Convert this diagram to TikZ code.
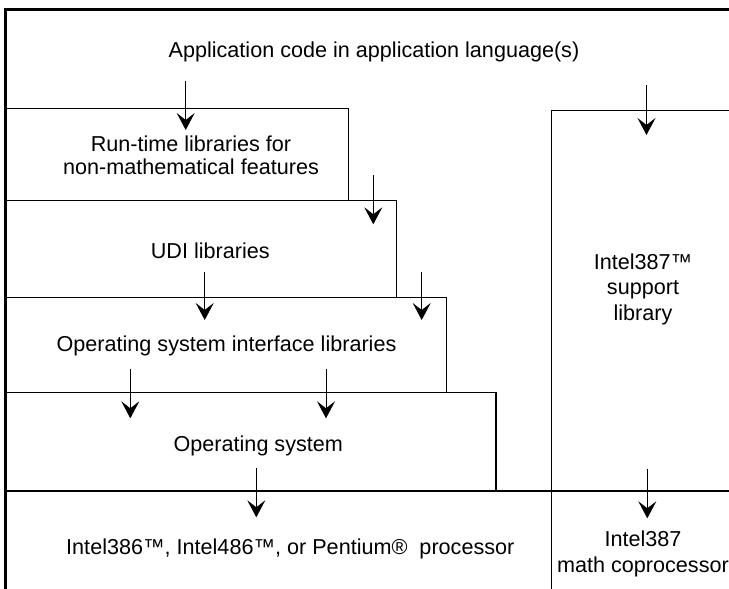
\documentclass[tikz,border=0pt]{standalone}
\usepackage{fontspec}
\setmainfont{Liberation Sans}
\usetikzlibrary{arrows.meta,positioning}
\tikzset{
    layer/.style={
        rectangle,
        draw,
        line width=1.2pt,
        anchor=north west,
        inner sep=0pt
    },
    layerText/.style={
        font=\fontsize{21.6}{25}\selectfont,
        align=center,
        anchor=base,
        inner sep=0pt
    },
    callArrow/.style={-{Stealth[length=17pt, width=18pt, inset=7pt]}, line width=0.9pt}
}

\begin{document}
\begin{tikzpicture}[x=1pt, y=-1pt,
    frame/.style={line width=3pt}
]
\useasboundingbox (0,0) rectangle (729,589);

% software layers, stepped to the right
\node[layer, minimum width=342.5pt, minimum height=92.5pt] (rtl) at (5,107.5) {};
\node[layer, minimum width=391pt, minimum height=97pt] (udi) at (5,200) {};
\node[layer, minimum width=441pt, minimum height=95pt] (osi) at (5,297) {};
\node[layer, minimum width=490.3pt, minimum height=98.3pt] (os) at (5,392) {};
% hardware and the math library
\node[layer, minimum width=545.7pt, minimum height=120pt] (cpu) at (5,490.3) {};
\node[layer, minimum width=200pt, minimum height=380.3pt] (sup) at (550.7,110) {};
\node[layer, minimum width=200pt, minimum height=120pt] (npx) at (550.7,490.3) {};

% base of a multi-line node is its last line
\node[layerText] (appT) at (374,57.7) {Application code in application language(s)};
\node[layerText, font=\fontsize{21.6}{22.3}\selectfont] (rtlT) at (191,174) {Run-time libraries for\\non-mathematical features};
\node[layerText] (udiT) at (210.3,258.3) {UDI libraries};
\node[layerText] (osiT) at (226.5,351.7) {Operating system interface libraries};
\node[layerText] (osT) at (258.3,451.7) {Operating system};
\node[layerText] (cpuT) at (290.3,554) {Intel386™, Intel486™, or Pentium®\ \ processor};
\node[layerText, font=\fontsize{21.6}{25.4}\selectfont] (supT) at (643,320) {Intel387™\\support\\library};
\node[layerText, font=\fontsize{21.6}{26}\selectfont] (npxT) at (643,572.7) {Intel387\\math coprocessor};

% calls going down
\foreach \n/\x/\ya/\yb in {1/185.7/81/130, 2/646.5/85/135, 3/373.3/175/224.3,
    4/204.7/271.7/320, 5/421.7/271.7/320, 6/130.3/369.3/418.3,
    7/326/369.3/418.3, 8/256.3/468.3/517.3, 9/647.3/469/518.3}{
  \coordinate (s\n) at (\x,\ya);
  \coordinate (e\n) at (\x,\yb);
  \draw[callArrow] (s\n) -- (e\n);
}

\draw[frame] (5,589) -- (5,9) -- (729,9);
\end{tikzpicture}
\end{document}
